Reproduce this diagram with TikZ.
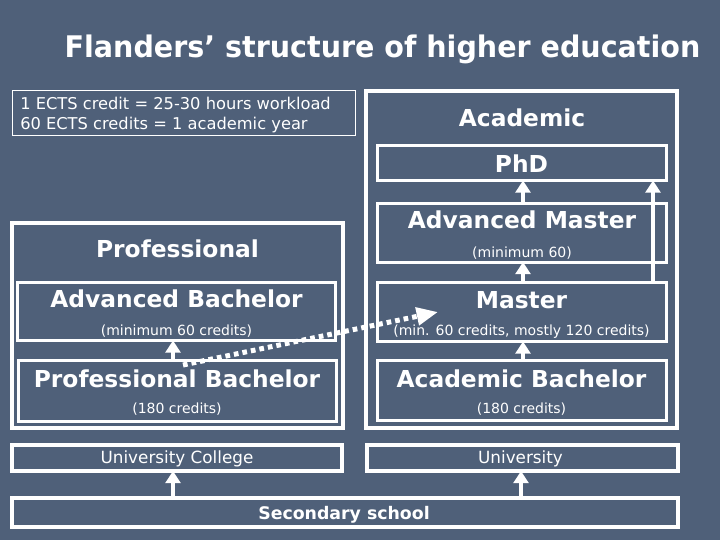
\documentclass[tikz,border=0pt]{standalone}
\usepackage{fontspec}
\setmainfont{DejaVu Sans}
\newfontfamily\titlefont[FakeStretch=0.96]{DejaVu Sans}
\usetikzlibrary{arrows.meta,fit}
\definecolor{bg}{RGB}{79,96,121}
\begin{document}
\begin{tikzpicture}[x=0.75pt,y=-0.75pt,
  obox/.style={draw=white, line width=3pt, inner sep=0pt, outer sep=0pt},
  ibox/.style={draw=white, line width=2.25pt, inner sep=0pt, outer sep=0pt},
  infobox/.style={draw=white, line width=0.75pt, inner sep=0pt, outer sep=0pt},
  head/.style={text=white, font=\fontsize{17.5}{20}\selectfont\bfseries, anchor=base, inner sep=0pt},
  subtxt/.style={text=white, font=\fontsize{10.5}{12}\selectfont, anchor=base, inner sep=0pt},
  inst/.style={text=white, font=\fontsize{12.6}{14}\selectfont, anchor=base, inner sep=0pt},
  info/.style={text=white, font=\fontsize{12.2}{14}\selectfont, anchor=base west, inner sep=0pt},
  arr/.style={draw=white, line width=3pt, -{Triangle[width=11pt,length=9pt]}},
  darr/.style={draw=white, line width=3.75pt, dash pattern=on 3.5pt off 3pt, -{Triangle[width=13pt,length=16pt]}}
]
\fill[bg] (0,0) rectangle (720,540);
\useasboundingbox (0,0) rectangle (720,540);

% title
\node[text=white, font=\titlefont\fontsize{22.3}{26}\selectfont\bfseries, anchor=base, inner sep=0pt] (title) at (382.5,57) {Flanders’ structure of higher education};

% info box
\node[infobox, fit={(12,90) (355,135)}] (infob) {};
\node[info] (info1) at (20,109) {1 ECTS credit = 25-30 hours workload};
\node[info] (info2) at (20,129) {60 ECTS credits = 1 academic year};

% academic side
\node[obox, fit={(366,90.5) (677,427.5)}] (acad) {};
\node[head] (acadt) at (522,126) {Academic};
\node[ibox, fit={(377,145.5) (666.5,180.5)}] (phd) {};
\node[head] (phdt) at (521.5,172) {PhD};
\node[ibox, fit={(377,203) (666.5,262)}] (amast) {};
\node[head] (amastt) at (522,228) {Advanced Master};
\node[subtxt] (amasts) at (522,257) {(minimum 60)};
\node[ibox, fit={(377,282) (666.5,341.5)}] (mast) {};
\node[head] (mastt) at (521.5,308) {Master};
\node[subtxt] (masts) at (521.5,335) {(min. 60 credits, mostly 120 credits)};
\node[ibox, fit={(377,360.5) (666.5,420.5)}] (abach) {};
\node[head] (abacht) at (521.5,387) {Academic Bachelor};
\node[subtxt] (abachs) at (521.5,413) {(180 credits)};

% professional side
\node[obox, fit={(12,222.5) (343,427.5)}] (prof) {};
\node[head] (proft) at (177.5,257) {Professional};
\node[ibox, fit={(17.5,282) (335.5,340.5)}] (advb) {};
\node[head] (advbt) at (176.5,307) {Advanced Bachelor};
\node[subtxt] (advbs) at (176.5,335) {(minimum 60 credits)};
\node[ibox, fit={(18,360) (336.5,421.5)}] (pbach) {};
\node[head] (pbacht) at (177,387) {Professional Bachelor};
\node[subtxt] (pbachs) at (177,413) {(180 credits)};

% institutions
\node[obox, fit={(11.5,444.5) (342,471)}] (ucol) {};
\node[inst] (ucolt) at (177,463) {University College};
\node[obox, fit={(367,444.5) (677.5,471)}] (univ) {};
\node[inst] (univt) at (520.5,463) {University};
\node[obox, fit={(11.5,498) (677.5,527)}] (sec) {};
\node[inst, font=\fontsize{13}{15}\selectfont\bfseries] (sect) at (344,519) {Secondary school};

% x positions for arrows
\coordinate (xl) at (173,0);
\coordinate (xm) at (523,0);
\coordinate (xu) at (521,0);
\coordinate (xr) at (653,0);

\draw[arr] (pbach.north -| xl) -- (advb.south -| xl);
\draw[arr] (abach.north -| xm) -- (mast.south -| xm);
\draw[arr] (mast.north -| xm) -- (amast.south -| xm);
\draw[arr] (amast.north -| xm) -- (phd.south -| xm);
\draw[arr] (mast.north -| xr) -- (phd.south -| xr);
\draw[arr] (sec.north -| xl) -- (ucol.south -| xl);
\draw[arr] (sec.north -| xu) -- (univ.south -| xu);

% dotted transfer arrow
\coordinate (ds) at (183,365);
\coordinate (de) at (438,312);
\draw[darr] (ds) -- (de);
\end{tikzpicture}
\end{document}
